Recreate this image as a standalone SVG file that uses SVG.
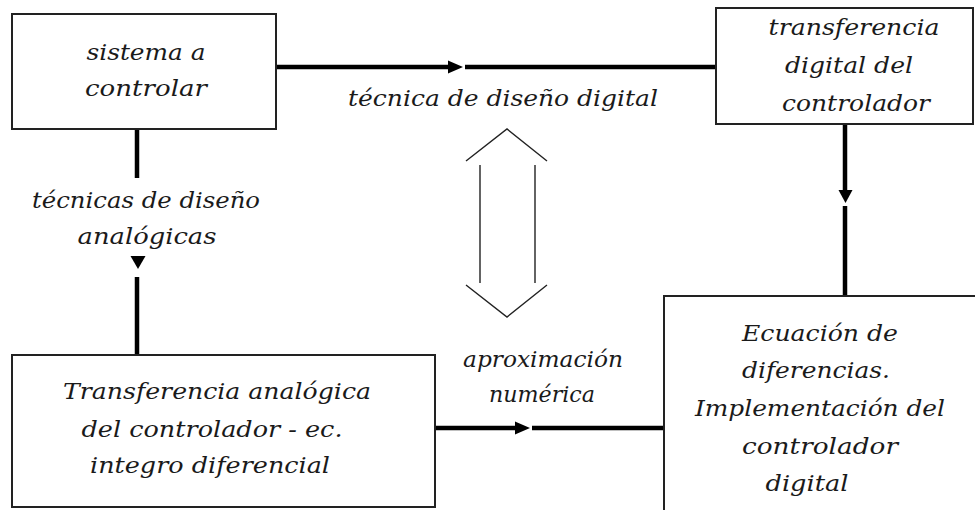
<svg xmlns="http://www.w3.org/2000/svg" width="975" height="510" viewBox="0 0 975 510">
<style>
.box{fill:#fff;stroke:#222;stroke-width:2}
.t{font-family:"DejaVu Serif","Liberation Serif",serif;font-style:italic;font-size:23px;fill:#1a1a1a;text-anchor:middle}
.c{stroke:#000;stroke-width:4.5;fill:none}
.ah{fill:#000;stroke:none}
.dbl{fill:none;stroke:#222;stroke-width:1.4}
</style>
<rect width="975" height="510" fill="#fff"/>
<g id="connectors">
<line class="c" x1="276" y1="67" x2="452" y2="67"/>
<polygon class="ah" points="448,60.5 463,67 448,73.5"/>
<line class="c" x1="465" y1="67" x2="716" y2="67"/>
<line class="c" x1="137" y1="129" x2="137" y2="178"/>
<polygon class="ah" points="130.5,256 145.5,256 138,269"/>
<line class="c" x1="137" y1="277" x2="137" y2="355"/>
<line class="c" x1="845" y1="124" x2="845" y2="191"/>
<polygon class="ah" points="838.5,190 852.5,190 845.5,203"/>
<line class="c" x1="845" y1="206" x2="845" y2="296"/>
<line class="c" x1="435" y1="428" x2="518" y2="428"/>
<polygon class="ah" points="515,421.5 530,428 515,434.5"/>
<line class="c" x1="532" y1="428" x2="664" y2="428"/>
</g>
<g id="sistema">
<rect class="box" x="12" y="14" width="264" height="115"/>
<text class="t" x="146" y="60" textLength="119" lengthAdjust="spacingAndGlyphs">sistema a</text>
<text class="t" x="146" y="96" textLength="122" lengthAdjust="spacingAndGlyphs">controlar</text>
</g>
<g id="transferencia-digital">
<rect class="box" x="716" y="8" width="257" height="116"/>
<text class="t" x="854" y="35" textLength="171" lengthAdjust="spacingAndGlyphs">transferencia</text>
<text class="t" x="849" y="73" textLength="128" lengthAdjust="spacingAndGlyphs">digital del</text>
<text class="t" x="856" y="111" textLength="148" lengthAdjust="spacingAndGlyphs">controlador</text>
</g>
<g id="transferencia-analogica">
<rect class="box" x="12" y="355" width="423" height="152"/>
<text class="t" x="217" y="399" textLength="308" lengthAdjust="spacingAndGlyphs">Transferencia analógica</text>
<text class="t" x="212" y="437" textLength="261" lengthAdjust="spacingAndGlyphs">del controlador - ec.</text>
<text class="t" x="210" y="473" textLength="240" lengthAdjust="spacingAndGlyphs">integro diferencial</text>
</g>
<g id="ecuacion">
<rect class="box" x="664" y="296" width="320" height="230"/>
<text class="t" x="820" y="341" textLength="156" lengthAdjust="spacingAndGlyphs">Ecuación de</text>
<text class="t" x="816" y="378" textLength="148" lengthAdjust="spacingAndGlyphs">diferencias.</text>
<text class="t" x="820" y="416" textLength="250" lengthAdjust="spacingAndGlyphs">Implementación del</text>
<text class="t" x="820" y="454" textLength="156" lengthAdjust="spacingAndGlyphs">controlador</text>
<text class="t" x="807" y="491" textLength="83" lengthAdjust="spacingAndGlyphs">digital</text>
</g>
<g id="labels">
<text class="t" x="503" y="106" textLength="310" lengthAdjust="spacingAndGlyphs">técnica de diseño digital</text>
<text class="t" x="146" y="208" textLength="228" lengthAdjust="spacingAndGlyphs">técnicas de diseño</text>
<text class="t" x="147" y="244" textLength="139" lengthAdjust="spacingAndGlyphs">analógicas</text>
<text class="t" x="543" y="367" textLength="160" lengthAdjust="spacingAndGlyphs">aproximación</text>
<text class="t" x="542" y="402" textLength="106" lengthAdjust="spacingAndGlyphs">numérica</text>
</g>
<g id="double-arrow">
<polyline class="dbl" points="466,161 507,129 547,161"/>
<line class="dbl" x1="480" y1="165" x2="480" y2="283"/>
<line class="dbl" x1="535" y1="165" x2="535" y2="283"/>
<polyline class="dbl" points="466,285 507,317 547,285"/>
</g>
</svg>
